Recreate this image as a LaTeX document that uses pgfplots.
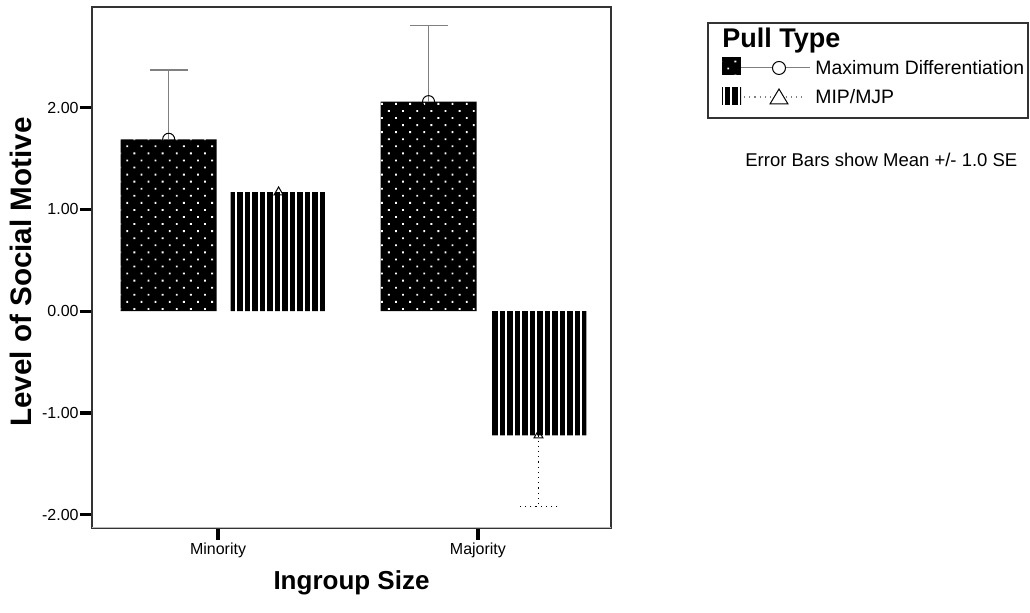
\documentclass[border=0pt]{standalone}
\usepackage{fontspec}
\setmainfont{Liberation Sans}
\usepackage{pgfplots}
\pgfplotsset{compat=1.18}
\usetikzlibrary{patterns.meta}

\tikzset{
  mdfill/.style={fill=black, postaction={pattern={Dots[distance=5pt,angle=45,radius=0.65pt]}, pattern color=white}},
  mipfill/.style={pattern={Lines[angle=90,distance=3.75pt,line width=2.6pt]}, pattern color=black},
}

\begin{document}
\begin{tikzpicture}
\useasboundingbox (0,0) rectangle (515pt,306.5pt);
\begin{axis}[
  at={(46pt,42.5pt)}, anchor=south west,
  scale only axis, width=259.5pt, height=260.5pt,
  xmin=-0.485, xmax=1.512, ymin=-2.13, ymax=2.99,
  xtick={0,1}, xticklabels={Minority,Majority},
  ytick={-2,-1,0,1,2}, yticklabels={-2.00,-1.00,0.00,1.00,2.00},
  tick pos=left, tick align=outside,
  major tick length=6pt,
  tick style={black, line width=1.6pt},
  tick label style={font=\fontsize{8}{9}\selectfont},
  yticklabel style={inner sep=0.5pt},
  xticklabel style={inner sep=1.5pt},
  axis line style={black!80, line width=0.7pt},
]
% Maximum Differentiation bars
\addplot[ybar, bar width=48pt, bar shift=0pt, draw=none, mdfill]
  coordinates {(-0.19,1.69) (0.81,2.06)};
% MIP/MJP bars
\addplot[ybar, bar width=48pt, bar shift=0pt, draw=none, mipfill]
  coordinates {(0.233,1.17) (1.233,-1.22)};
% means with +/- 1 SE error bars (visible side only)
\addplot[only marks, mark=o, mark size=3pt, mark options={black, line width=0.5pt},
  error bars/.cd, y dir=plus, y explicit, error mark=|,
  error bar style={gray, line width=0.5pt},
  error mark options={gray, mark size=9.5pt, line width=0.6pt}]
  coordinates {(-0.19,1.69) +- (0,0.68) (0.81,2.06) +- (0,0.75)};
\addplot[only marks, mark=triangle, mark size=2.6pt,
  mark options={black, fill=white, line width=0.5pt},
  error bars/.cd, y dir=minus, y explicit, error mark=|,
  error bar style={black, line width=0.6pt, dash pattern=on 0.6pt off 2pt},
  error mark options={black, mark size=9.5pt, line width=0.6pt, dash pattern=on 0.6pt off 2pt}]
  coordinates {(1.233,-1.22) +- (0,0.70)};
\addplot[only marks, mark=triangle, mark size=2.6pt,
  mark options={black, fill=white, line width=0.5pt}]
  coordinates {(0.233,1.17)};
\draw[gray!55, line width=1.2pt] (rel axis cs:0,0) -- (rel axis cs:1,0);
\end{axis}

\begin{scope}[x=0.5pt, y=-0.5pt, shift={(0pt,306.5pt)}]
  \node[rotate=90, font=\bfseries\fontsize{14.8}{16}\selectfont] at (21,272) {Level of Social Motive};
  \node[anchor=base, font=\bfseries\fontsize{13}{15}\selectfont] at (351.5,590) {Ingroup Size};
  % legend
  \draw[black!80, line width=0.6pt] (708,23) rectangle (1028,118);
  \node[anchor=base west, inner sep=0pt, font=\bfseries\fontsize{13.5}{15}\selectfont] at (722,48) {Pull Type};
  \fill[mdfill] (722,57) rectangle (741,75);
  \draw[gray, line width=0.5pt] (741,68) -- (810,68);
  \draw[black, fill=white, line width=0.5pt] (779,68) circle (6.5);
  \node[anchor=west, inner sep=0pt, font=\fontsize{9.7}{11}\selectfont] at (815,68) {Maximum Differentiation};
  \fill[mipfill] (722,88) rectangle (741,105);
  \draw[gray, line width=0.6pt, dash pattern=on 0.6pt off 2pt] (744,97) -- (806,97);
  \draw[black, fill=white, line width=0.5pt] (770,104) -- (788,104) -- (779,89) -- cycle;
  \node[anchor=west, inner sep=0pt, font=\fontsize{9.7}{11}\selectfont] at (815,97) {MIP/MJP};
  \node[anchor=base west, inner sep=0pt, font=\fontsize{9.25}{11}\selectfont] at (745,167) {Error Bars show Mean +/- 1.0 SE};
\end{scope}
\end{tikzpicture}
\end{document}
